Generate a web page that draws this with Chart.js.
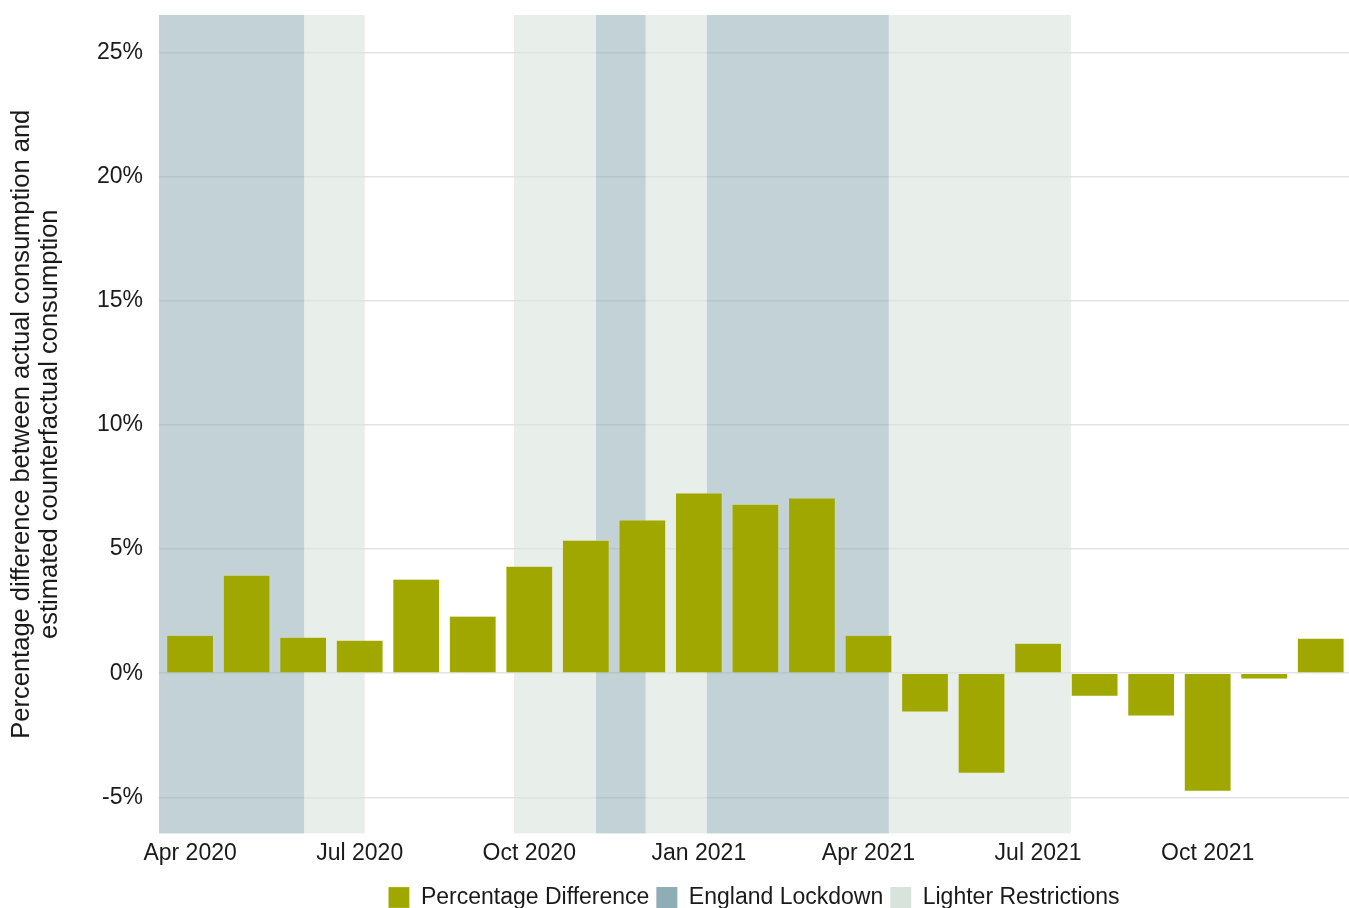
<!DOCTYPE html>
<html>
<head>
<meta charset="utf-8">
<script src="https://cdn.jsdelivr.net/npm/chart.js@4"></script>
<style>
  html, body { margin: 0; padding: 0; background: #fff; }
  #wrap { width: 1349px; height: 908px; position: relative; }
</style>
</head>
<body>
<div id="wrap"><canvas id="consumptionChart"></canvas></div>
<script>
// months from Apr 2020 (index 0) to Dec 2021 (index 20)
const months = ['Apr 2020', 'May 2020', 'Jun 2020', 'Jul 2020', 'Aug 2020', 'Sep 2020',
    'Oct 2020', 'Nov 2020', 'Dec 2020', 'Jan 2021', 'Feb 2021', 'Mar 2021',
    'Apr 2021', 'May 2021', 'Jun 2021', 'Jul 2021', 'Aug 2021', 'Sep 2021',
    'Oct 2021', 'Nov 2021', 'Dec 2021'];
const pctDiff = [1.53, 3.95, 1.45, 1.33, 3.79, 2.30, 4.31, 5.36, 6.17, 7.26, 6.81, 7.06,
    1.53, -1.57, -4.03, 1.21, -0.93, -1.73, -4.76, -0.24, 1.41];

// restriction periods, as fractional month index
const lockdowns = [[-0.55, 2.02], [7.18, 8.06], [9.14, 12.36]];
const lighter = [[2.02, 3.09], [5.73, 7.18], [8.06, 9.14], [12.36, 15.58]];

const xTicks = [0, 3, 6, 9, 12, 15, 18];
const yTicks = [-5, 0, 5, 10, 15, 20, 25];

const barColor = '#a0a800';
const lockdownColor = '#8fadb5';
const lighterColor = '#d8e3dc';

const periodShading = {
    id: 'periodShading',
    beforeDatasetsDraw(chart) {
        const { ctx, chartArea, scales } = chart;
        const draw = (ranges, color) => {
            ctx.fillStyle = color;
            ranges.forEach(([a, b]) => {
                const x0 = scales.x.getPixelForValue(a);
                const x1 = scales.x.getPixelForValue(b);
                ctx.fillRect(x0, chartArea.top, x1 - x0, chartArea.bottom - chartArea.top);
            });
        };
        ctx.save();
        ctx.globalAlpha = 0.55;
        draw(lockdowns, lockdownColor);
        ctx.globalAlpha = 0.6;
        draw(lighter, lighterColor);
        ctx.restore();
    }
};

// centre the legend under the plot area rather than the whole canvas
const legendUnderPlot = {
    id: 'legendUnderPlot',
    afterLayout(chart) {
        const lg = chart.legend;
        if (!lg) return;
        lg.left = chart.chartArea.left;
        lg.right = chart.chartArea.right;
        lg.width = lg.right - lg.left;
    }
};

Chart.defaults.font.family = '"Liberation Sans", Arial, sans-serif';
Chart.defaults.color = '#1a1a1a';

new Chart(document.getElementById('consumptionChart'), {
    type: 'bar',
    data: {
        datasets: [{
            label: 'Percentage Difference',
            data: pctDiff.map((v, i) => ({ x: i, y: v })),
            backgroundColor: barColor,
            borderColor: 'rgba(230,235,180,0.6)',
            borderWidth: 0.6,
            barPercentage: 0.83,
            categoryPercentage: 1
        }, {
            label: 'England Lockdown',
            data: [],
            backgroundColor: lockdownColor
        }, {
            label: 'Lighter Restrictions',
            data: [],
            backgroundColor: lighterColor
        }]
    },
    options: {
        responsive: true,
        maintainAspectRatio: false,
        animation: false,
        grouped: false,
        layout: { padding: { left: 8, right: 0, top: 15, bottom: -11 } },
        plugins: {
            legend: {
                position: 'bottom',
                onClick: null,
                labels: {
                    boxWidth: 21,
                    boxHeight: 21,
                    padding: 7,
                    color: '#1a1a1a',
                    font: { size: 23 }
                }
            },
            tooltip: { enabled: false }
        },
        scales: {
            x: {
                type: 'linear',
                offset: false,
                min: -0.55,
                max: 20.5,
                grid: { display: false },
                border: { display: false },
                afterBuildTicks: (scale) => { scale.ticks = xTicks.map(v => ({ value: v })); },
                afterFit: (scale) => { scale.height += 14; },
                ticks: {
                    autoSkip: false,
                    maxRotation: 0,
                    padding: -2,
                    font: { size: 23 },
                    color: '#1a1a1a',
                    callback: (value) => months[value] || ''
                }
            },
            y: {
                min: -6.45,
                max: 26.5,
                afterBuildTicks: (scale) => { scale.ticks = yTicks.map(v => ({ value: v })); },
                afterFit: (scale) => {
                    scale.width = 151;
                    scale.paddingTop = 0;
                    scale.paddingBottom = 0;
                },
                grid: { color: '#e3e3e3', lineWidth: 1.5, drawTicks: false },
                border: { display: false },
                ticks: {
                    padding: 16,
                    font: { size: 23 },
                    color: '#1a1a1a',
                    callback: (value) => value + '%'
                },
                title: {
                    display: true,
                    text: ['Percentage difference between actual consumption and',
                        'estimated counterfactual consumption'],
                    font: { size: 25.5, lineHeight: 1.1 },
                    color: '#1a1a1a',
                    padding: 0
                }
            }
        }
    },
    plugins: [periodShading, legendUnderPlot]
});
</script>
</body>
</html>
